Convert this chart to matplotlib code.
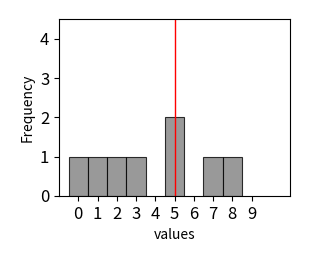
import numpy as np
import matplotlib.pyplot as plt

plt.rcParams['font.family'] = ['Noto Sans CJK JP', 'DejaVu Sans']

values = [0, 1, 2, 3, 5, 5, 7, 8]
bin_edges = np.arange(-0.5, 10.5, 1)
marker_x = 5
ticks = list(range(10))

fig = plt.figure(figsize=(3.09, 2.59), dpi=100)
ax = fig.add_axes([59 / 309, 63 / 259, 231 / 309, 177 / 259])

counts, _, patches = ax.hist(values, bins=bin_edges, color='gray', alpha=0.8,
                             edgecolor='black', linewidth=0.8)
# empty bins show no outline in the original
for c, p in zip(counts, patches):
    if c == 0:
        p.set_visible(False)
ax.axvline(marker_x, color='red', linewidth=1)

ax.set_xlim(-1, 11)
ax.set_ylim(0, 4.5)
ax.set_xticks(ticks)
ax.set_yticks([0, 1, 2, 3, 4])
ax.tick_params(labelsize=12)
ax.set_xlabel('values', fontsize=10)
ax.set_ylabel('Frequency', fontsize=10)

fig.savefig('out.png', dpi=100)
